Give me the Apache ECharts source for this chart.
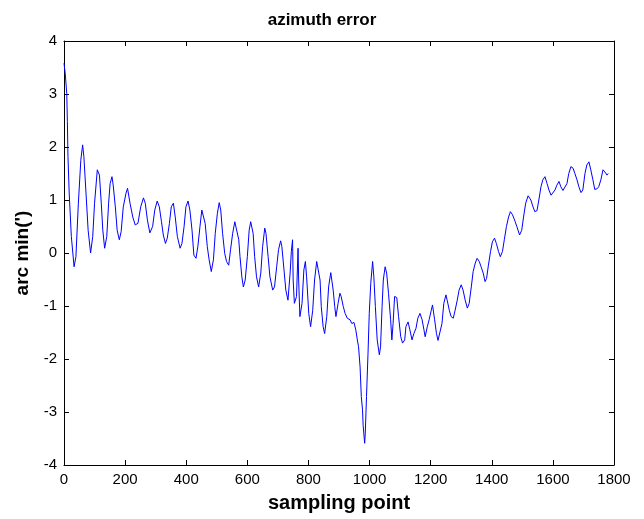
<!DOCTYPE html>
<html>
<head>
<meta charset="utf-8">
<script src="https://cdn.jsdelivr.net/npm/echarts@6/dist/echarts.min.js"></script>
<style>html,body{margin:0;padding:0;background:#fff}#c{width:644px;height:519px}</style>
</head>
<body>
<div id="c"></div>
<script>
const titleText = 'azimuth error';
const xName = 'sampling point';
const yName = "arc min(')";
const xTicks = [0, 200, 400, 600, 800, 1000, 1200, 1400, 1600, 1800];
const yTicks = [-4, -3, -2, -1, 0, 1, 2, 3, 4];

const samplePoint = [
0,4,9,11,13,17,24,33,39,47,55,61,65,72,79,87,94,100,109,116,122,127,133,140,146,151,157,161,168,174,181,187,194,203,208,216,225,233,242,251,260,266,273,281,
290,297,305,312,319,325,332,338,345,351,358,364,371,380,386,393,399,406,412,419,425,432,438,445,451,456,462,469,475,482,489,495,502,508,513,519,526,532,539,545,552,559,565,572,576,582,587,
593,600,606,611,615,619,624,630,637,644,650,657,661,668,674,683,689,696,702,709,713,720,726,733,740,744,748,750,754,761,766,768,772,779,785,790,794,801,807,814,820,827,833,838,842,848,853,860,866,873,
877,881,886,890,897,903,907,914,920,927,936,942,949,955,960,964,969,973,977,979,984,986,990,995,999,1004,1010,1014,1019,1025,1032,1036,1041,1045,1051,1056,1062,1069,1073,1077,1082,1089,1095,1102,1108,1115,1119,1126,1132,1139,1145,1152,1158,1165,
1172,1178,1182,1189,1195,1202,1206,1213,1219,1224,1230,1237,1243,1250,1254,1261,1267,1274,1280,1287,1293,1300,1306,1313,1320,1326,1333,1339,1346,1352,1359,1365,1372,1378,1383,1389,1396,1402,1409,1415,1422,1428,1435,1441,1448,1455,1461,1468,
1476,1482,1491,1498,1504,1511,1519,1528,1535,1541,1548,1554,1561,1567,1574,1581,1587,1594,1600,1607,1613,1620,1626,1633,1639,1646,1652,1659,1666,1672,1679,1685,1692,1698,1705,1711,1718,1724,1731,1737,1744,1750,1757,1764,1770,1777,1781
];
const azimuthError = [
3.58,3.39,3.01,2.48,1.82,1.13,0.31,-0.26,-0.07,0.94,1.75,2.04,1.82,1.13,0.43,0.0,0.31,0.94,1.57,1.47,0.94,0.43,0.09,0.31,0.94,1.31,1.44,1.28,0.87,0.43,0.25,0.40,0.87,1.13,1.22,0.94,0.68,0.53,0.56,0.87,1.04,0.94,0.62,0.38,
0.50,0.81,0.98,0.87,0.59,0.34,0.18,0.28,0.56,0.87,0.94,0.68,0.31,0.09,0.18,0.50,0.87,0.98,0.81,0.43,-0.04,-0.10,0.12,0.50,0.81,0.84,0.56,0.12,-0.13,-0.35,-0.13,0.37,0.75,0.95,0.81,0.37,-0.01,-0.16,-0.23,0.06,0.37,0.59,0.59,0.25,-0.07,-0.45,-0.64,
-0.51,-0.07,0.43,0.59,0.56,0.37,-0.07,-0.45,-0.64,-0.38,0.12,0.47,0.37,-0.07,-0.45,-0.70,-0.64,-0.26,0.06,0.23,0.12,-0.32,-0.70,-0.89,-0.38,0.03,0.25,-0.51,-0.95,-0.82,0.09,-0.51,-1.20,-0.95,-0.32,-0.16,-0.45,-1.14,-1.39,-1.08,-0.51,-0.16,-0.16,-0.51,-1.01,-1.39,-1.52,-1.20,-0.64,-0.37,
-0.40,-0.70,-1.01,-1.20,-0.95,-0.76,-0.82,-1.01,-1.14,-1.23,-1.26,-1.33,-1.31,-1.45,-1.64,-1.77,-2.15,-2.71,-2.96,-3.25,-3.59,-3.40,-2.71,-1.89,-1.14,-0.57,-0.16,-0.45,-1.01,-1.64,-1.92,-1.77,-1.01,-0.51,-0.26,-0.38,-0.76,-1.26,-1.64,-1.33,-0.82,-0.84,-1.20,-1.58,-1.70,-1.64,-1.39,-1.30,-1.45,-1.64,-1.52,-1.42,-1.23,-1.14,
-1.26,-1.45,-1.58,-1.39,-1.26,-1.08,-0.98,-1.26,-1.52,-1.65,-1.64,-1.33,-0.95,-0.79,-0.89,-1.08,-1.20,-1.23,-1.08,-0.89,-0.70,-0.60,-0.70,-0.89,-1.04,-0.95,-0.64,-0.35,-0.19,-0.10,-0.16,-0.26,-0.38,-0.54,-0.48,-0.23,0.03,0.21,0.28,0.18,0.03,-0.07,0.03,0.25,0.50,0.68,0.78,0.72,
0.60,0.50,0.34,0.43,0.68,0.94,1.08,1.00,0.87,0.78,0.80,1.00,1.25,1.38,1.44,1.31,1.19,1.09,1.09,1.19,1.28,1.35,1.25,1.18,1.19,1.31,1.50,1.63,1.60,1.50,1.38,1.25,1.14,1.19,1.50,1.66,1.72,1.57,1.38,1.20,1.21,1.25,1.38,1.57,1.53,1.47,1.50
];

const seriesData = samplePoint.map((s, i) => [s, azimuthError[i]]);
const FONT = '"Liberation Sans", Arial, sans-serif';
const xMin = xTicks[0], xMax = xTicks[xTicks.length - 1], xStep = xTicks[1] - xTicks[0];
const yMin = yTicks[0], yMax = yTicks[yTicks.length - 1], yStep = yTicks[1] - yTicks[0];

const chart = echarts.init(document.getElementById('c'), null, {renderer: 'canvas'});
const axisLine = {show: true, onZero: false, lineStyle: {color: '#000', width: 1}};
const axisTick = {show: true, inside: true, length: 5, lineStyle: {color: '#000', width: 1}};
chart.setOption({
  animation: false,
  backgroundColor: '#fff',
  title: {
    text: titleText, left: 'center', top: 7,
    textStyle: {fontFamily: FONT, fontWeight: 'bold', fontSize: 17, color: '#000'}
  },
  grid: {left: 64, right: 30, top: 41, bottom: 54, containLabel: false},
  xAxis: [{
    type: 'value', min: xMin, max: xMax, interval: xStep, position: 'bottom',
    name: xName, nameLocation: 'middle', nameGap: 28,
    nameTextStyle: {fontFamily: FONT, fontWeight: 'bold', fontSize: 20, color: '#000'},
    axisLine, axisTick, splitLine: {show: false},
    axisLabel: {fontFamily: FONT, fontSize: 15, color: '#000', margin: 7, formatter: v => String(v)}
  }, {
    type: 'value', min: xMin, max: xMax, interval: xStep, position: 'top',
    axisLine, axisTick, splitLine: {show: false}, axisLabel: {show: false}
  }],
  yAxis: [{
    type: 'value', min: yMin, max: yMax, interval: yStep, position: 'left',
    name: yName, nameLocation: 'middle', nameGap: 28, nameRotate: 90,
    nameTextStyle: {fontFamily: FONT, fontWeight: 'bold', fontSize: 19, color: '#000'},
    axisLine, axisTick, splitLine: {show: false},
    axisLabel: {fontFamily: FONT, fontSize: 15, color: '#000', margin: 7, formatter: v => String(v)}
  }, {
    type: 'value', min: yMin, max: yMax, interval: yStep, position: 'right',
    axisLine, axisTick, splitLine: {show: false}, axisLabel: {show: false}
  }],
  series: [{
    type: 'line', xAxisIndex: 0, yAxisIndex: 0, data: seriesData,
    showSymbol: false, symbol: 'none', smooth: false,
    lineStyle: {color: '#0000ff', width: 1}
  }]
});
</script>
</body>
</html>
